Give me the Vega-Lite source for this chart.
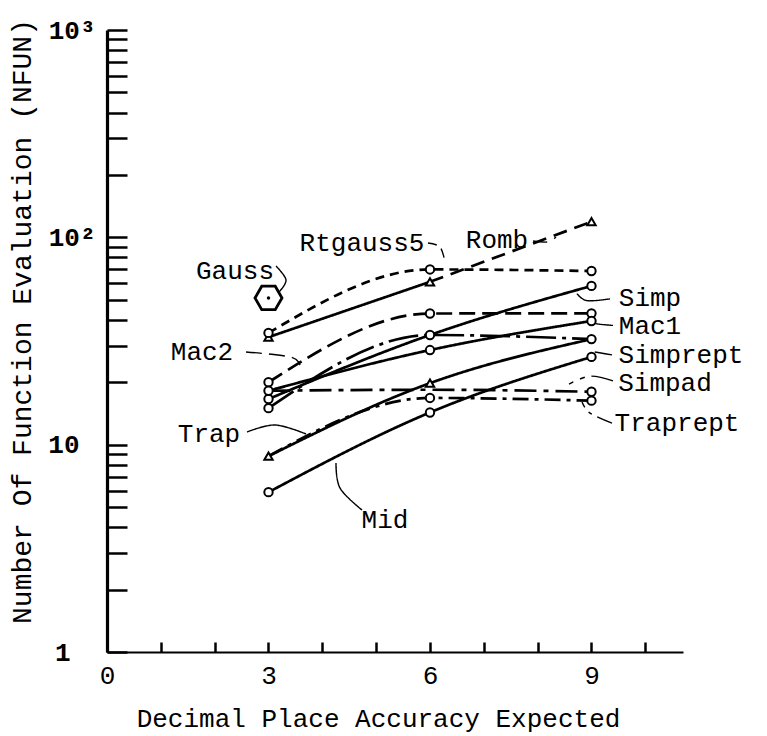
{
  "$schema": "https://vega.github.io/schema/vega-lite/v6.json",
  "autosize": "none",
  "width": 576,
  "height": 622,
  "padding": {"left": 107, "top": 30, "right": 84, "bottom": 84},
  "background": "white",
  "config": {
    "view": {"stroke": null},
    "font": "Liberation Mono",
    "axis": {"grid": false, "labelFlush": false, "domainColor": "black", "tickColor": "black", "labelColor": "black", "titleColor": "black", "labelFont": "Liberation Mono", "titleFont": "Liberation Mono", "titleFontWeight": "normal"}
  },
  "datasets": {
    "segments": [
      {"line": "Romb a", "acc": 3, "nfun": 33},
      {"line": "Romb a", "acc": 6, "nfun": 61},
      {"line": "Romb b", "acc": 6, "nfun": 61},
      {"line": "Romb b", "acc": 9, "nfun": 119},
      {"line": "Rtgauss5", "acc": 3, "nfun": 34.6},
      {"line": "Rtgauss5", "acc": 6, "nfun": 70},
      {"line": "Rtgauss5", "acc": 9, "nfun": 68.8},
      {"line": "Mac2", "acc": 3, "nfun": 20},
      {"line": "Mac2", "acc": 6, "nfun": 42.9},
      {"line": "Mac2", "acc": 9, "nfun": 43},
      {"line": "Simp", "acc": 3, "nfun": 16.6},
      {"line": "Simp", "acc": 6, "nfun": 33.8},
      {"line": "Simp", "acc": 9, "nfun": 58.3},
      {"line": "Mac1", "acc": 3, "nfun": 18.2},
      {"line": "Mac1", "acc": 6, "nfun": 28.6},
      {"line": "Mac1", "acc": 9, "nfun": 39.5},
      {"line": "Simprept", "acc": 3, "nfun": 15},
      {"line": "Simprept", "acc": 6, "nfun": 33.8},
      {"line": "Simprept", "acc": 9, "nfun": 32.3},
      {"line": "Simpad", "acc": 3, "nfun": 18.2},
      {"line": "Simpad", "acc": 6, "nfun": 18.4},
      {"line": "Simpad", "acc": 9, "nfun": 18},
      {"line": "Trap", "acc": 3, "nfun": 8.8},
      {"line": "Trap", "acc": 6, "nfun": 19.8},
      {"line": "Trap", "acc": 9, "nfun": 32.3},
      {"line": "Traprept", "acc": 3, "nfun": 8.8},
      {"line": "Traprept", "acc": 6, "nfun": 16.8},
      {"line": "Traprept", "acc": 9, "nfun": 16.3},
      {"line": "Mid", "acc": 3, "nfun": 5.9},
      {"line": "Mid", "acc": 6, "nfun": 14.3},
      {"line": "Mid", "acc": 9, "nfun": 26.5}
    ],
    "points": [
      {"series": "Romb", "acc": 3, "nfun": 33},
      {"series": "Romb", "acc": 6, "nfun": 61},
      {"series": "Romb", "acc": 9, "nfun": 119},
      {"series": "Rtgauss5", "acc": 3, "nfun": 34.6},
      {"series": "Rtgauss5", "acc": 6, "nfun": 70},
      {"series": "Rtgauss5", "acc": 9, "nfun": 68.8},
      {"series": "Mac2", "acc": 3, "nfun": 20},
      {"series": "Mac2", "acc": 6, "nfun": 42.9},
      {"series": "Mac2", "acc": 9, "nfun": 43},
      {"series": "Simp", "acc": 3, "nfun": 16.6},
      {"series": "Simp", "acc": 6, "nfun": 33.8},
      {"series": "Simp", "acc": 9, "nfun": 58.3},
      {"series": "Mac1", "acc": 3, "nfun": 18.2},
      {"series": "Mac1", "acc": 6, "nfun": 28.6},
      {"series": "Mac1", "acc": 9, "nfun": 39.5},
      {"series": "Simprept", "acc": 3, "nfun": 15},
      {"series": "Simprept", "acc": 9, "nfun": 32.3},
      {"series": "Simpad", "acc": 9, "nfun": 18},
      {"series": "Trap", "acc": 3, "nfun": 8.8},
      {"series": "Trap", "acc": 6, "nfun": 19.8},
      {"series": "Traprept", "acc": 6, "nfun": 16.8},
      {"series": "Traprept", "acc": 9, "nfun": 16.3},
      {"series": "Mid", "acc": 3, "nfun": 5.9},
      {"series": "Mid", "acc": 6, "nfun": 14.3},
      {"series": "Mid", "acc": 9, "nfun": 26.5}
    ],
    "gauss": [
      {"series": "Gauss", "acc": 3, "nfun": 51}
    ],
    "labels": [
      {"text": "Romb", "acc": 7.245, "nfun": 97},
      {"text": "Rtgauss5", "acc": 4.737, "nfun": 93.9},
      {"text": "Gauss", "acc": 2.378, "nfun": 68.8},
      {"text": "Simp", "acc": 10.087, "nfun": 51},
      {"text": "Mac1", "acc": 10.087, "nfun": 37.4},
      {"text": "Simprept", "acc": 10.663, "nfun": 27.1},
      {"text": "Simpad", "acc": 10.366, "nfun": 19.8},
      {"text": "Traprept", "acc": 10.589, "nfun": 12.7},
      {"text": "Trap", "acc": 1.895, "nfun": 11.26},
      {"text": "Mac2", "acc": 1.765, "nfun": 28},
      {"text": "Mid", "acc": 5.164, "nfun": 4.33}
    ],
    "leaders": [
      {"to": "Mid", "step": 1, "acc": 4.737, "nfun": 4.84},
      {"to": "Mid", "step": 2, "acc": 4.328, "nfun": 6.18},
      {"to": "Mid", "step": 3, "acc": 4.254, "nfun": 8.16},
      {"to": "Trap", "step": 1, "acc": 2.601, "nfun": 11.51},
      {"to": "Trap", "step": 2, "acc": 3.121, "nfun": 12.44},
      {"to": "Trap", "step": 3, "acc": 3.697, "nfun": 11.26},
      {"to": "Mac2", "step": 1, "acc": 2.582, "nfun": 28},
      {"to": "Mac2", "step": 2, "acc": 3.4, "nfun": 26.5},
      {"to": "Mac2", "step": 3, "acc": 3.585, "nfun": 24.2},
      {"to": "Gauss", "step": 1, "acc": 3.14, "nfun": 72.7},
      {"to": "Gauss", "step": 2, "acc": 3.325, "nfun": 62.3},
      {"to": "Gauss", "step": 3, "acc": 3.195, "nfun": 54.5},
      {"to": "Rtgauss5", "step": 1, "acc": 5.963, "nfun": 93.9},
      {"to": "Rtgauss5", "step": 2, "acc": 6.186, "nfun": 89.8},
      {"to": "Rtgauss5", "step": 3, "acc": 6.279, "nfun": 76},
      {"to": "Romb", "step": 1, "acc": 7.914, "nfun": 96},
      {"to": "Romb", "step": 2, "acc": 8.193, "nfun": 95},
      {"to": "Romb", "step": 3, "acc": 8.341, "nfun": 100.4},
      {"to": "Simp", "step": 1, "acc": 9.344, "nfun": 50.5},
      {"to": "Simp", "step": 2, "acc": 8.917, "nfun": 49.5},
      {"to": "Simp", "step": 3, "acc": 8.731, "nfun": 53.5},
      {"to": "Mac1", "step": 1, "acc": 9.4, "nfun": 37.6},
      {"to": "Mac1", "step": 2, "acc": 9.121, "nfun": 38.2},
      {"to": "Mac1", "step": 3, "acc": 8.973, "nfun": 39.2},
      {"to": "Simprept", "step": 1, "acc": 9.381, "nfun": 27.1},
      {"to": "Simprept", "step": 2, "acc": 9.2, "nfun": 27.6},
      {"to": "Simprept", "step": 3, "acc": 9.06, "nfun": 28},
      {"to": "Simpad", "step": 1, "acc": 9.4, "nfun": 20.3},
      {"to": "Simpad", "step": 2, "acc": 8.973, "nfun": 21.4},
      {"to": "Simpad", "step": 3, "acc": 8.583, "nfun": 19.6},
      {"to": "Traprept", "step": 1, "acc": 9.381, "nfun": 12.7},
      {"to": "Traprept", "step": 2, "acc": 8.973, "nfun": 14.2},
      {"to": "Traprept", "step": 3, "acc": 8.824, "nfun": 16.06}
    ]
  },
  "layer": [
    {
      "data": {"name": "segments"},
      "mark": {"type": "line", "color": "black", "strokeWidth": 2.7, "interpolate": "monotone", "clip": false},
      "encoding": {
        "x": {
          "field": "acc", "type": "quantitative",
          "scale": {"domain": [0, 10.7], "nice": false, "zero": false},
          "axis": {
            "values": [0, 1, 2, 3, 4, 5, 6, 7, 8, 9, 10],
            "labelExpr": "datum.value % 3 == 0 ? datum.label : ''",
            "tickSize": -10, "tickWidth": 2.5, "domainWidth": 2.2,
            "labelFontSize": 26, "labelPadding": 20, "labelBaseline": "top",
            "title": "Decimal Place Accuracy Expected", "titleFontSize": 26,
            "titleBaseline": "middle", "titleX": 271, "titleY": 66
          }
        },
        "y": {
          "field": "nfun", "type": "quantitative",
          "scale": {"type": "log", "domain": [1, 1000], "nice": false},
          "axis": {
            "values": [1, 2, 3, 4, 5, 6, 7, 8, 9, 10, 20, 30, 40, 50, 60, 70, 80, 90, 100, 200, 300, 400, 500, 600, 700, 800, 900, 1000],
            "labelExpr": "datum.value == 1 ? '1' : datum.value == 10 ? '10' : datum.value == 100 ? '10\u00b2' : datum.value == 1000 ? '10\u00b3' : ''",
            "tickSize": -20, "tickWidth": 2.5, "domainWidth": 3.2,
            "labelFontSize": 26, "labelFontWeight": "bold",
            "labelPadding": {"condition": [{"test": "datum.value == 1", "value": 57}, {"test": "datum.value == 10", "value": 48}], "value": 32},
            "title": "Number Of Function Evaluation (NFUN)", "titleFontSize": 28,
            "titleBaseline": "middle", "titleX": -85, "titleY": 291
          }
        },
        "detail": {"field": "line"},
        "strokeDash": {
          "field": "line", "type": "nominal", "legend": null,
          "scale": {
            "domain": ["Romb a", "Romb b", "Rtgauss5", "Mac2", "Simp", "Mac1", "Simprept", "Simpad", "Trap", "Traprept", "Mid"],
            "range": [[1, 0], [14, 8], [9, 6], [16, 7], [1, 0], [1, 0], [30, 6, 4, 6], [22, 7, 5, 7], [1, 0], [16, 6, 4, 6], [1, 0]]
          }
        }
      }
    },
    {
      "data": {"name": "leaders"},
      "mark": {"type": "line", "color": "black", "strokeWidth": 1.4, "interpolate": "cardinal", "clip": false},
      "encoding": {
        "x": {"field": "acc", "type": "quantitative"},
        "y": {"field": "nfun", "type": "quantitative"},
        "detail": {"field": "to"},
        "order": {"field": "step", "type": "quantitative"},
        "strokeDash": {
          "field": "to", "type": "nominal", "legend": null,
          "scale": {
            "domain": ["Mid", "Trap", "Mac2", "Gauss", "Rtgauss5", "Romb", "Simp", "Mac1", "Simprept", "Simpad", "Traprept"],
            "range": [[1, 0], [1, 0], [4, 4], [1, 0], [4, 3], [1, 0], [1, 0], [5, 3], [5, 3], [1, 0], [1, 0]]
          }
        }
      }
    },
    {
      "data": {"name": "points"},
      "mark": {"type": "point", "filled": true, "fill": "white", "stroke": "black", "strokeWidth": 2, "opacity": 1, "size": 70, "clip": false},
      "encoding": {
        "x": {"field": "acc", "type": "quantitative"},
        "y": {"field": "nfun", "type": "quantitative"},
        "shape": {
          "field": "series", "type": "nominal", "legend": null,
          "scale": {
            "domain": ["Romb", "Trap", "Rtgauss5", "Mac2", "Simp", "Mac1", "Simprept", "Simpad", "Traprept", "Mid"],
            "range": ["triangle-up", "triangle-up", "circle", "circle", "circle", "circle", "circle", "circle", "circle", "circle"]
          }
        }
      }
    },
    {
      "data": {"name": "gauss"},
      "mark": {"type": "point", "shape": "M -1 0 L -0.5 -0.87 L 0.5 -0.87 L 1 0 L 0.5 0.87 L -0.5 0.87 Z", "size": 729, "filled": false, "stroke": "black", "strokeWidth": 2.8, "opacity": 1, "clip": false},
      "encoding": {
        "x": {"field": "acc", "type": "quantitative"},
        "y": {"field": "nfun", "type": "quantitative"}
      }
    },
    {
      "data": {"name": "gauss"},
      "mark": {"type": "point", "shape": "circle", "size": 12, "filled": true, "color": "black", "opacity": 1, "clip": false},
      "encoding": {
        "x": {"field": "acc", "type": "quantitative"},
        "y": {"field": "nfun", "type": "quantitative"}
      }
    },
    {
      "data": {"name": "labels"},
      "mark": {"type": "text", "font": "Liberation Mono", "fontSize": 26, "color": "black", "align": "center", "baseline": "middle", "clip": false},
      "encoding": {
        "x": {"field": "acc", "type": "quantitative"},
        "y": {"field": "nfun", "type": "quantitative"},
        "text": {"field": "text"}
      }
    }
  ]
}
